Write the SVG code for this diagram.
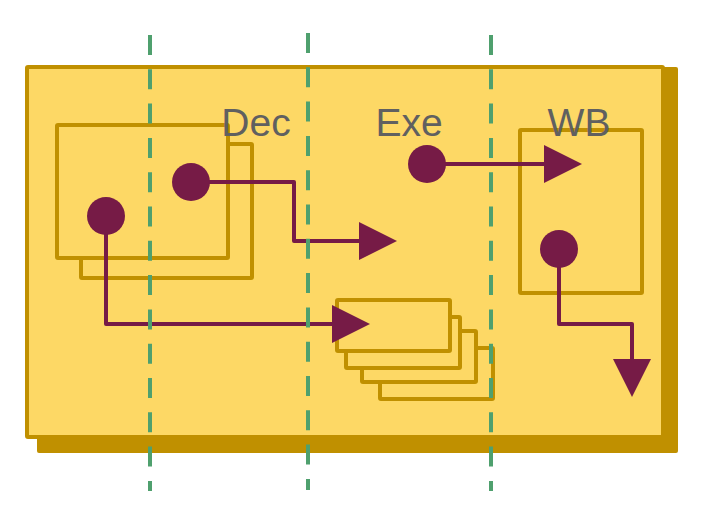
<svg xmlns="http://www.w3.org/2000/svg" width="704" height="522" viewBox="0 0 704 522">
<style>
.box{fill:#FDD865;stroke:#C09000;stroke-width:4;stroke-linejoin:round}
.shadow{fill:#C09000;stroke:none}
.wire{fill:none;stroke:#761B46;stroke-width:4;stroke-linejoin:round;marker-start:url(#dot);marker-end:url(#arrow)}
.lbl{font-family:"Liberation Sans",Arial,sans-serif;font-size:39px;fill:#606060;text-anchor:middle}
.stage{stroke:#4FA06E;stroke-width:4;stroke-dasharray:20 14.3;fill:none}
</style>
<defs>
<marker id="arrow" markerUnits="userSpaceOnUse" viewBox="0 0 38 38" markerWidth="38" markerHeight="38" refX="1" refY="19" orient="auto">
<path d="M0,0 L38,19 L0,38 Z" fill="#761B46"/>
</marker>
<marker id="dot" markerUnits="userSpaceOnUse" viewBox="0 0 40 40" markerWidth="40" markerHeight="40" refX="20" refY="20" orient="auto">
<circle cx="20" cy="20" r="19" fill="#761B46"/>
</marker>
</defs>
<g id="pipeline">
<rect class="shadow" x="37" y="67" width="641" height="386" rx="2"/>
<rect class="box" x="27" y="67" width="636" height="370" rx="1"/>
</g>
<g id="dec-stack">
<rect class="box" x="81" y="144" width="171" height="134" rx="1"/>
<rect class="box" x="57" y="125" width="171" height="133" rx="1"/>
</g>
<g id="exe-stack">
<rect class="box" x="380" y="348" width="113" height="51" rx="1"/>
<rect class="box" x="362" y="331" width="114" height="51" rx="1"/>
<rect class="box" x="346" y="317" width="114" height="51" rx="1"/>
<rect class="box" x="337" y="300" width="113" height="51" rx="1"/>
</g>
<g id="wb-box">
<rect class="box" x="520" y="130" width="122" height="163" rx="1"/>
</g>
<g id="connectors">
<path class="wire" d="M191,182 H294 V241 H360"/>
<path class="wire" d="M106,216 V324 H333"/>
<path class="wire" d="M427,164 H545"/>
<path class="wire" d="M559,249 V324 H632 V360"/>
</g>
<g id="stage-lines">
<line class="stage" x1="150" y1="35" x2="150" y2="491"/>
<line class="stage" x1="308" y1="33" x2="308" y2="490"/>
<line class="stage" x1="491" y1="35" x2="491" y2="491"/>
</g>
<g id="labels">
<text class="lbl" x="256" y="136">Dec</text>
<text class="lbl" x="409" y="136">Exe</text>
<text class="lbl" x="579" y="136">WB</text>
</g>
</svg>
